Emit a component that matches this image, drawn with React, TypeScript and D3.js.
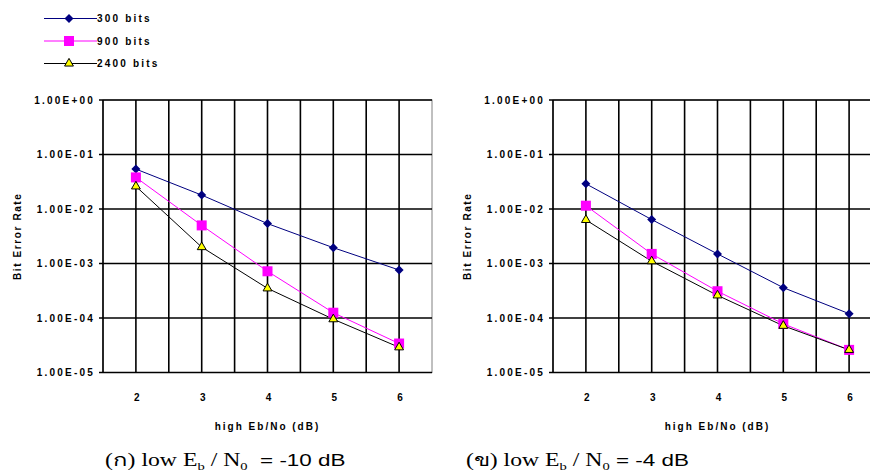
import React from 'react'
import * as d3 from 'd3'

// high Eb/No (dB) categories
const snr = [2, 3, 4, 5, 6]
const seriesNames = ['300 bits', '900 bits', '2400 bits']
const yTicks = [1, 1e-1, 1e-2, 1e-3, 1e-4, 1e-5]

// (ก) low Eb/No = -10 dB
const left300 = [5.4e-2, 1.8e-2, 5.4e-3, 1.95e-3, 7.6e-4]
const left900 = [3.8e-2, 5.0e-3, 7.2e-4, 1.25e-4, 3.4e-5]
const left2400 = [2.6e-2, 2.0e-3, 3.5e-4, 9.5e-5, 2.9e-5]

// (ข) low Eb/No = -4 dB
const right300 = [2.9e-2, 6.4e-3, 1.5e-3, 3.6e-4, 1.2e-4]
const right900 = [1.15e-2, 1.5e-3, 3.1e-4, 7.8e-5, 2.6e-5]
const right2400 = [6.3e-3, 1.1e-3, 2.6e-4, 7.2e-5, 2.6e-5]

const colors = ['#000080', '#ff00ff', '#000000']
const smallFont = '"Liberation Sans", Arial, sans-serif'
const serifFont = '"Liberation Serif", "Times New Roman", serif'

const fmtExp = (v: number) => {
  const e = Math.round(Math.log10(v))
  const sign = e < 0 ? '-' : '+'
  return '1.00E' + sign + String(Math.abs(e)).padStart(2, '0')
}

function Marker({ kind, x, y }: { kind: number; x: number; y: number }) {
  if (kind === 0) {
    const s = 4.5
    return <path d={`M${x},${y - s}L${x + s},${y}L${x},${y + s}L${x - s},${y}Z`} fill="#000080" />
  }
  if (kind === 1) {
    return <rect x={x - 5} y={y - 5} width={10} height={10} fill="#ff00ff" />
  }
  const t = d3.symbol(d3.symbolTriangle, 34)()
  return <path d={t || ''} transform={`translate(${x},${y})`} fill="#ffff00" stroke="#000" strokeWidth={1} />
}

function Chart({ x0, series }: { x0: number; series: number[][] }) {
  const top = 100
  const bottom = 372.5
  const plotW = 329
  const x = d3.scaleBand<number>().domain(snr).range([x0, x0 + plotW])
  const y = d3.scaleLog().domain([1e-5, 1]).range([bottom, top])
  const half = x.bandwidth() / 2
  const vLines = d3.range(snr.length * 2 + 1).map((i) => x0 + i * half)
  const cx = (d: number) => (x(d) as number) + half

  const line = d3
    .line<number>()
    .x((_, i) => cx(snr[i]))
    .y((d) => y(d))

  return (
    <g>
      {/* plot border */}
      <rect x={x0} y={top} width={plotW} height={bottom - top} fill="none" stroke="#808080" strokeWidth={1} />
      {vLines.map((v, i) => (
        <line key={'v' + i} x1={v} x2={v} y1={top} y2={bottom} stroke="#000" strokeWidth={i === vLines.length - 1 ? 0 : 1.6} />
      ))}
      {yTicks.map((t) => (
        <g key={t}>
          <line x1={x0 - 4} x2={x0 + plotW} y1={y(t)} y2={y(t)} stroke="#000" strokeWidth={1.6} />
          <text
            x={x0 - 8}
            y={y(t)}
            dy="0.35em"
            textAnchor="end"
            fontFamily={smallFont}
            fontWeight="bold"
            fontSize={10}
            letterSpacing={2.2}
          >
            {fmtExp(t)}
          </text>
        </g>
      ))}
      {snr.map((d) => (
        <text
          key={d}
          x={cx(d) + 1}
          y={397}
          dy="0.35em"
          textAnchor="middle"
          fontFamily={smallFont}
          fontWeight="bold"
          fontSize={10}
        >
          {d}
        </text>
      ))}
      <text
        x={x0 + plotW / 2}
        y={426}
        dy="0.35em"
        textAnchor="middle"
        fontFamily={smallFont}
        fontWeight="bold"
        fontSize={10}
        letterSpacing={2}
      >
        high Eb/No (dB)
      </text>
      <text
        transform={`translate(${x0 - 86},${(top + bottom) / 2}) rotate(-90)`}
        textAnchor="middle"
        dy="0.35em"
        fontFamily={smallFont}
        fontWeight="bold"
        fontSize={10}
        letterSpacing={1.6}
      >
        Bit Error Rate
      </text>
      {series.map((s, k) => (
        <path key={'l' + k} d={line(s) || ''} fill="none" stroke={colors[k]} strokeWidth={1} />
      ))}
      {series.map((s, k) =>
        s.map((v, i) => <Marker key={k + '-' + i} kind={k} x={cx(snr[i])} y={y(v)} />)
      )}
    </g>
  )
}

// caption text is stretched sideways in the source scan
function Caption({ x, label, value }: { x: number; label: string; value: string }) {
  return (
    <g transform={`translate(${x},466) scale(1.32,1)`}>
      <text x={0} y={0} fontFamily={serifFont} fontSize={18} xmlSpace="preserve">
        ({label}) low E
        <tspan fontSize={11} dy={4}>b</tspan>
        <tspan dy={-4}> / N</tspan>
        <tspan fontSize={11} dy={4}>0</tspan>
        <tspan dy={-4} fontFamily={smallFont} fontSize={17}>{value}</tspan>
      </text>
    </g>
  )
}

export default function App() {
  const legendY = [18.5, 41, 63.5]
  return (
    <svg width={870} height={475} style={{ position: 'absolute', left: 0, top: 0, background: '#fff' }}>
      <rect width={870} height={475} fill="#fff" />
      {seriesNames.map((n, k) => (
        <g key={n}>
          <line x1={44} x2={97} y1={legendY[k]} y2={legendY[k]} stroke={colors[k]} strokeWidth={1.2} />
          <Marker kind={k} x={69} y={legendY[k]} />
          <text
            x={97}
            y={legendY[k]}
            dy="0.35em"
            fontFamily={smallFont}
            fontWeight="bold"
            fontSize={10}
            letterSpacing={2.2}
          >
            {n}
          </text>
        </g>
      ))}
      <Chart x0={103} series={[left300, left900, left2400]} />
      <Chart x0={553} series={[right300, right900, right2400]} />
      <Caption x={105} label="ก" value="  = -10 dB" />
      <Caption x={466} label="ข" value=" = -4 dB" />
    </svg>
  )
}
